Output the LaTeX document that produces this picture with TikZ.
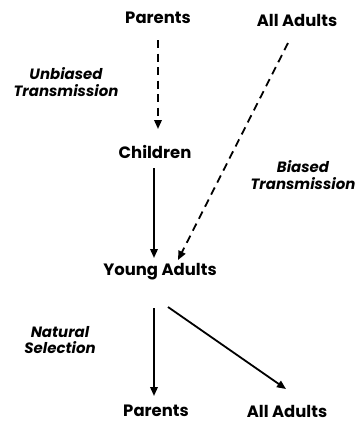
\documentclass[tikz,border=0pt]{standalone}
\usepackage{fontspec}
\setmainfont{Poppins}
\usetikzlibrary{arrows.meta}
\begin{document}
\begin{tikzpicture}[x=1bp,y=-1bp,
  lbl/.style={font=\bfseries\fontsize{16.5}{18}\selectfont, inner sep=1pt},
  note/.style={font=\bfseries\itshape\fontsize{15}{17}\selectfont, align=center, inner sep=1pt},
  arr/.style={line width=1.8bp, -{Triangle[length=9bp,width=7.5bp]}},
  dsh/.style={arr, dash pattern=on 8bp off 5.5bp}]
\useasboundingbox (0,0) rectangle (363,428);
\node[lbl] (p1) at (158,18) {Parents};
\node[lbl] (a1) at (297,20) {All Adults};
\node[lbl] (ch) at (155,152) {Children};
\node[lbl] (ya) at (160,272) {Young Adults};
\node[lbl] (p2) at (156,411) {Parents};
\node[lbl] (a2) at (287,411) {All Adults};
\node[note] (ut) at (66,82) {Unbiased\\Transmission};
\node[note] (bt) at (303,175) {Biased\\Transmission};
\node[note] (ns) at (60,340) {Natural\\Selection};
\coordinate (p1s) at (158,40);
\coordinate (p1e) at (158,129);
\coordinate (a1s) at (288,43);
\coordinate (a1e) at (178,260);
\coordinate (chs) at (154,168);
\coordinate (che) at (154,258);
\coordinate (yas) at (154,308);
\coordinate (yae) at (154,396);
\coordinate (yds) at (168,307);
\coordinate (yde) at (286,389);
\draw[dsh] (p1s) -- (p1e);
\draw[dsh] (a1s) -- (a1e);
\draw[arr] (chs) -- (che);
\draw[arr] (yas) -- (yae);
\draw[arr] (yds) -- (yde);
\end{tikzpicture}
\end{document}
